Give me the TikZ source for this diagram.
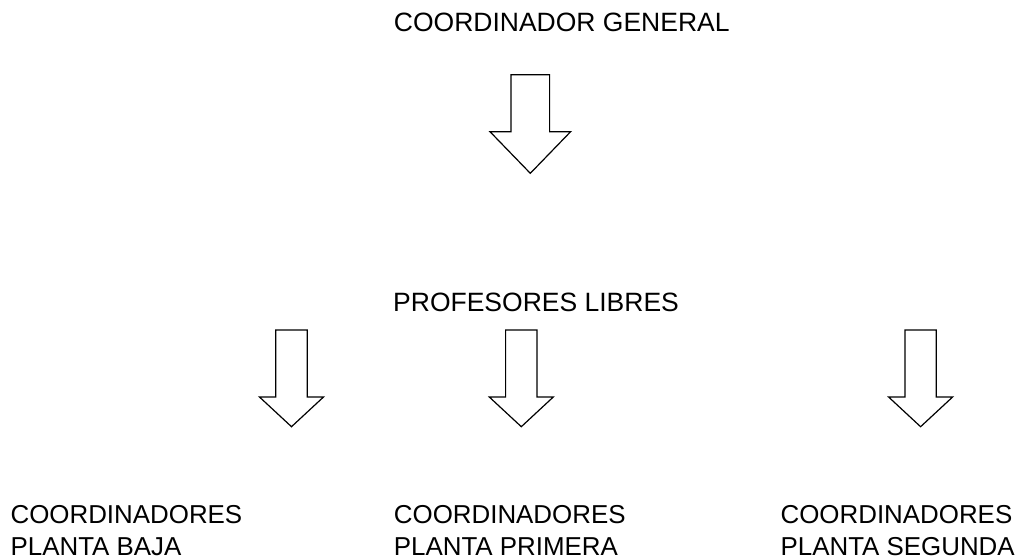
\documentclass[tikz,border=0pt]{standalone}
\usepackage{fontspec}
\setmainfont{Liberation Sans}
\usepackage{tikz}
\usetikzlibrary{positioning,calc}

\begin{document}
\begin{tikzpicture}[x=1pt, y=-1pt,
    cargo/.style={inner sep=0pt, anchor=base west, align=left, font=\fontsize{26.5}{31.7}\selectfont},
    planta/.style={cargo, font=\fontsize{25.9}{31.7}\selectfont},
    flecha/.style={draw=black, line width=1.2pt, fill=white, line join=miter},
    pics/flechabaja/.style n args={4}{code={
        \draw[flecha] (-#1,0) -- (#1,0) -- (#1,#3) -- (#2,#3) -- (0,#4) -- (-#2,#3) -- (-#1,#3) -- cycle;}}]
    \useasboundingbox (0,0) rectangle (1021,560);
    \node[cargo] (general) at (393.7,31) {COORDINADOR GENERAL};
    \node[cargo] (libres) at (393,311.7) {PROFESORES LIBRES};
    \node[planta] (baja) at (10.4,555) {COORDINADORES\\PLANTA BAJA};
    \node[planta] (primera) at (393.7,555) {COORDINADORES\\PLANTA PRIMERA};
    \node[planta] (segunda) at (780.4,555) {COORDINADORES\\PLANTA SEGUNDA};
    % flechas
    \pic (fgeneral) at (530.3,74.7) {flechabaja={19.3}{40.3}{57}{98.6}};
    \pic (fbaja) at (291.5,330) {flechabaja={15.7}{32}{67}{96.7}};
    \pic (fprimera) at (521.3,330) {flechabaja={15.7}{32}{67}{96.7}};
    \pic (fsegunda) at (920.6,330) {flechabaja={15.7}{32}{67}{96.7}};
\end{tikzpicture}
\end{document}
